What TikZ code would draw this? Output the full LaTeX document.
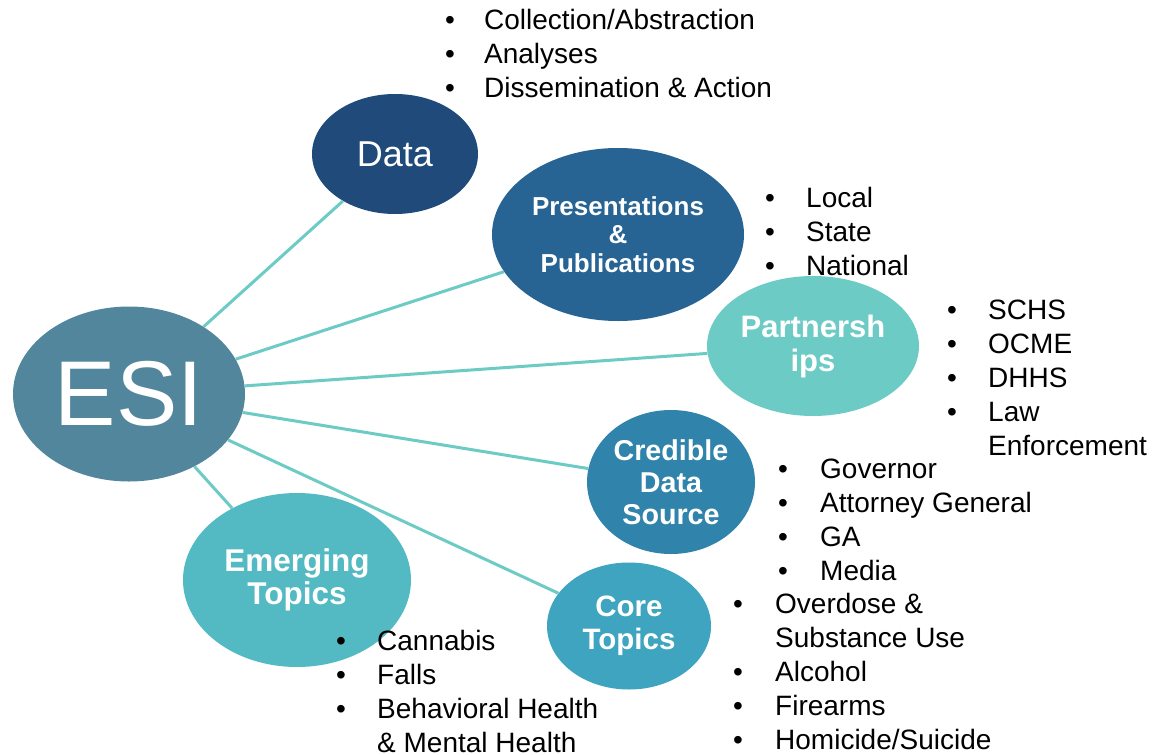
\documentclass[tikz,border=0pt]{standalone}
\usepackage{fontspec}
\setmainfont{Liberation Sans}
\usetikzlibrary{shapes.geometric}
\definecolor{cesi}{HTML}{52869C}
\definecolor{cdata}{HTML}{1F4A7A}
\definecolor{cpres}{HTML}{276493}
\definecolor{cpart}{HTML}{6DCBC5}
\definecolor{ccred}{HTML}{3083AA}
\definecolor{cemer}{HTML}{53BAC3}
\definecolor{ccore}{HTML}{3EA4BF}
\definecolor{cline}{HTML}{6DCBC5}
\newcommand{\bul}[1]{\makebox[#1][l]{•}}
\begin{document}
\begin{tikzpicture}[x=1pt,y=-1pt,
  bub/.style={ellipse, inner sep=0pt, text=white, align=center, draw=none},
  conn/.style={draw=cline, line width=3pt},
  lst/.style={anchor=base west, inner sep=0pt, text=black, font=\fontsize{28}{34}\selectfont}]
\useasboundingbox[fill=white] (0,0) rectangle (1154,755);
% bubbles
\node[bub, fill=cesi, minimum width=232pt, minimum height=175pt, font=\fontsize{92}{100}\selectfont] (esi) at (129,394) {ESI};
\node[bub, fill=cdata, minimum width=166pt, minimum height=120pt, font=\fontsize{36}{40}\selectfont] (data) at (395,154) {Data};
\node[bub, fill=cpres, minimum width=252pt, minimum height=173pt, font=\bfseries\fontsize{26}{28.5}\selectfont] (pres) at (618,234.5) {Presentations\\\&\\Publications};
\node[bub, fill=cpart, minimum width=212pt, minimum height=140pt, font=\bfseries\fontsize{31}{34}\selectfont] (part) at (813,346) {Partnersh\\ips};
\node[bub, fill=ccred, minimum width=168pt, minimum height=144pt, font=\bfseries\fontsize{28.7}{32}\selectfont] (cred) at (671,482) {Credible\\Data\\Source};
\node[bub, fill=cemer, minimum width=228pt, minimum height=174pt, font=\bfseries\fontsize{31.5}{33.5}\selectfont] (emer) at (297,580) {Emerging\\Topics};
\node[bub, fill=ccore, minimum width=164pt, minimum height=127pt, font=\bfseries\fontsize{29.5}{33}\selectfont] (core) at (629,626) {Core\\Topics};
% connectors
\draw[conn] (esi) -- (data);
\draw[conn] (esi) -- (pres);
\draw[conn] (esi) -- (part);
\draw[conn] (esi) -- (cred);
\draw[conn] (esi) -- (core);
\draw[conn] (esi) -- (emer);
% lists
\node[lst] (ldata) at (445,29) {\begin{tabular}[t]{@{}l@{}l@{}}\bul{39pt}&Collection/Abstraction\\ \bul{39pt}&Analyses\\ \bul{39pt}&Dissemination \& Action\end{tabular}};
\node[lst] (lpres) at (765,207) {\begin{tabular}[t]{@{}l@{}l@{}}\bul{41pt}&Local\\ \bul{41pt}&State\\ \bul{41pt}&National\end{tabular}};
\node[lst] (lpart) at (947,319) {\begin{tabular}[t]{@{}l@{}l@{}}\bul{41pt}&SCHS\\ \bul{41pt}&OCME\\ \bul{41pt}&DHHS\\ \bul{41pt}&Law\\ &Enforcement\end{tabular}};
\node[lst] (lcred) at (778,478) {\begin{tabular}[t]{@{}l@{}l@{}}\bul{42pt}&Governor\\ \bul{42pt}&Attorney General\\ \bul{42pt}&GA\\ \bul{42pt}&Media\end{tabular}};
\node[lst] (lcore) at (733,613) {\begin{tabular}[t]{@{}l@{}l@{}}\bul{42pt}&Overdose \&\\ &Substance Use\\ \bul{42pt}&Alcohol\\ \bul{42pt}&Firearms\\ \bul{42pt}&Homicide/Suicide\end{tabular}};
\node[lst] (lemer) at (336,650) {\begin{tabular}[t]{@{}l@{}l@{}}\bul{41pt}&Cannabis\\ \bul{41pt}&Falls\\ \bul{41pt}&Behavioral Health\\ &\& Mental Health\end{tabular}};
\end{tikzpicture}
\end{document}
